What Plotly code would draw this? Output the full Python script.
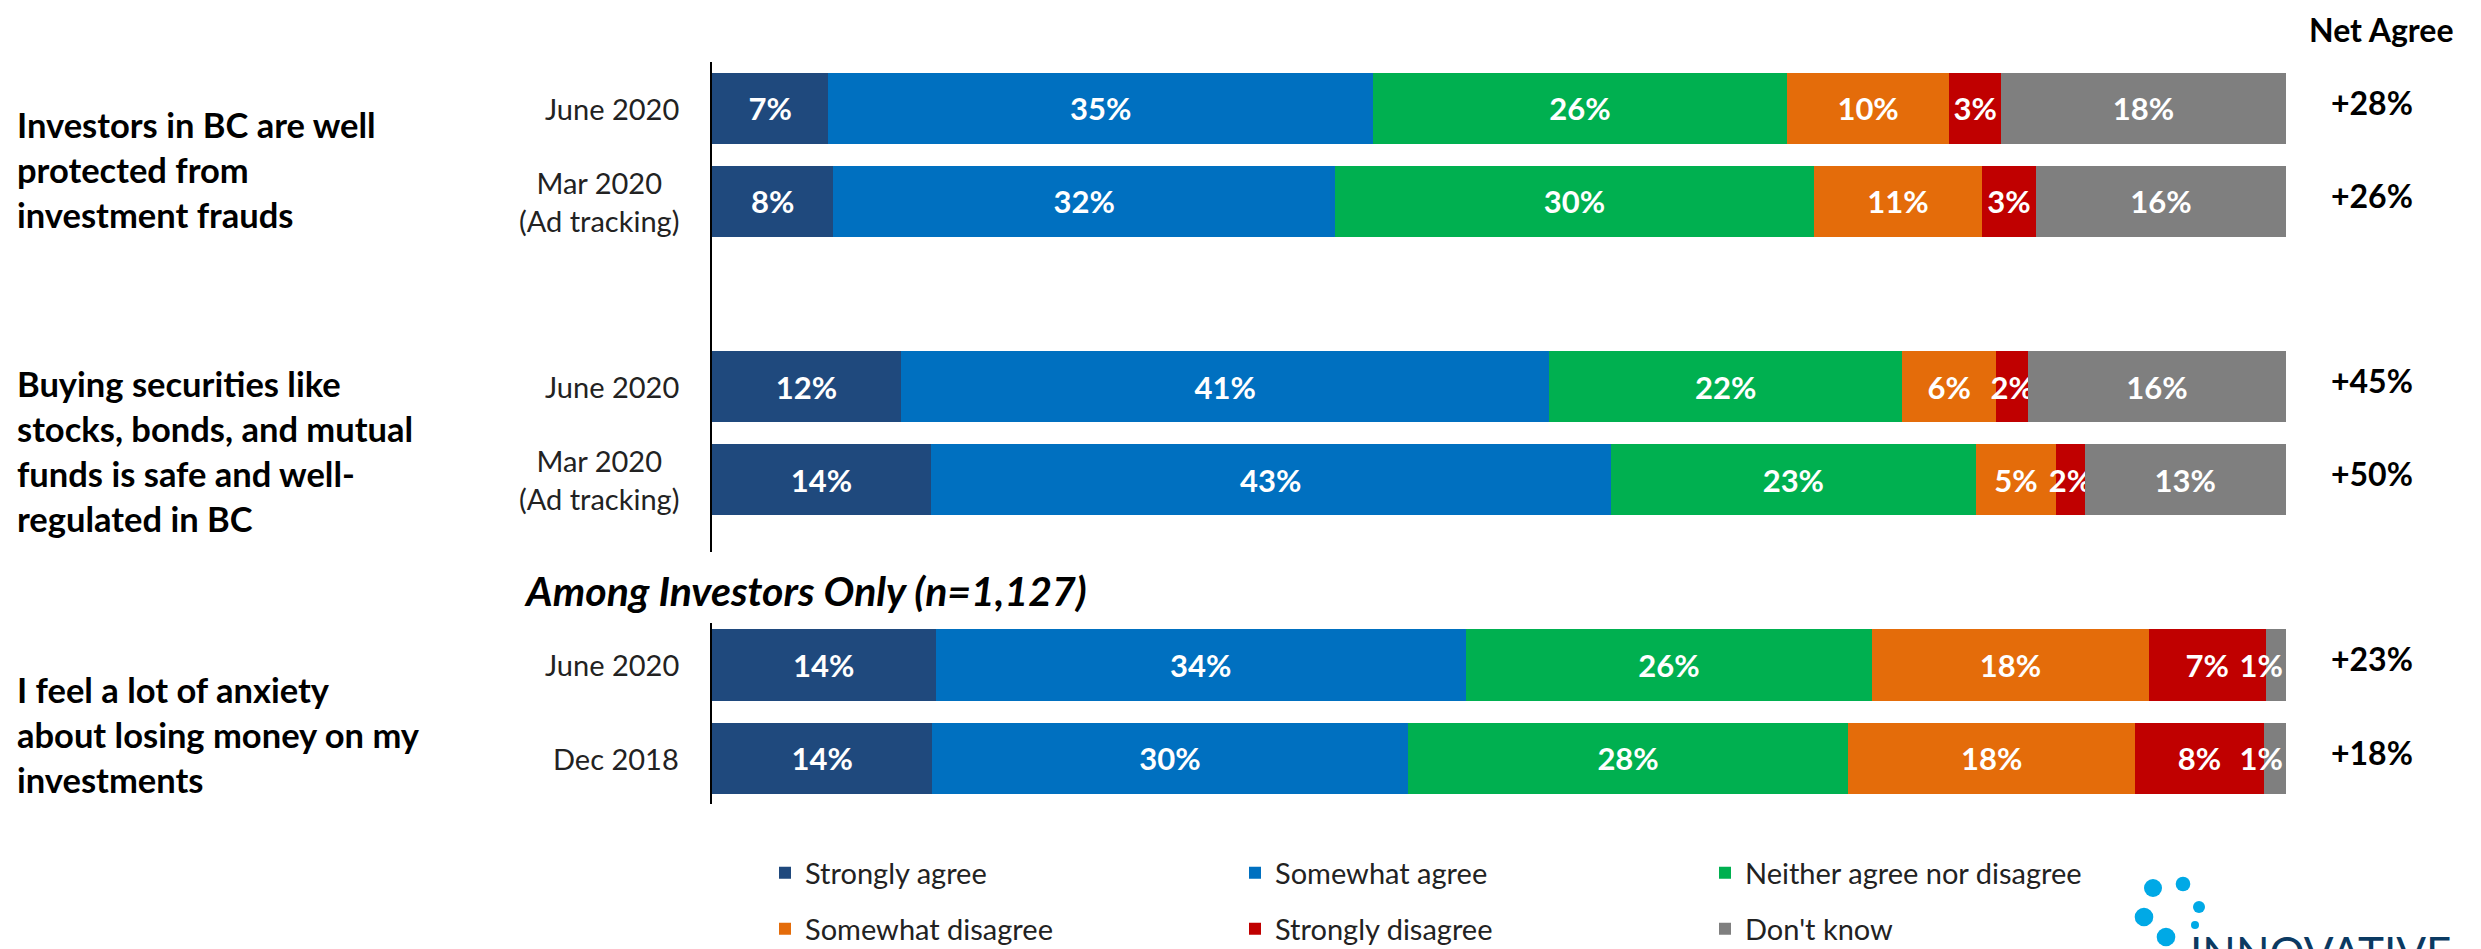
import plotly.graph_objects as go

# the page body keeps the browser's default 8px margin, so the figure is 8px smaller
# and every reference pixel position is shifted by that offset
OFF = 8
W, H = 2481 - OFF, 949 - OFF

statements = [
    "Investors in BC are well<br>protected from<br>investment frauds",
    "Buying securities like<br>stocks, bonds, and mutual<br>funds is safe and well-<br>regulated in BC",
    "I feel a lot of anxiety<br>about losing money on my<br>investments",
]
waves = [
    ["June 2020", "Mar 2020<br>(Ad tracking)"],
    ["June 2020", "Mar 2020<br>(Ad tracking)"],
    ["June 2020", "Dec 2018"],
]
responses = ["Strongly agree", "Somewhat agree", "Neither agree nor disagree",
             "Somewhat disagree", "Strongly disagree", "Don't know"]
colors = ["#1F497D", "#0070C0", "#00B050", "#E46C0A", "#C00000", "#7F7F7F"]

# one value per bar, in row order (statement 1 June, Mar, statement 2 June, Mar, statement 3 June, Dec)
strongly_agree = [7.4, 7.7, 12.0, 13.9, 14.2, 14.0]
somewhat_agree = [34.6, 31.9, 41.2, 43.2, 33.7, 30.2]
neither = [26.3, 30.4, 22.4, 23.2, 25.8, 28.0]
somewhat_disagree = [10.3, 10.7, 6.0, 5.1, 17.6, 18.2]
strongly_disagree = [3.3, 3.4, 2.0, 1.8, 7.4, 8.2]
dont_know = [18.1, 15.9, 16.4, 12.8, 1.3, 1.4]
net_agree = [28, 26, 45, 50, 23, 18]

series = [strongly_agree, somewhat_agree, neither, somewhat_disagree, strongly_disagree, dont_know]

# rows of the first two statements share the top panel (with an empty slot between them),
# the investors-only statement sits in the bottom panel
rows = []
for g, wv in enumerate(waves):
    for r, label in enumerate(wv):
        if g < 2:
            rows.append(("y", g * 3 + r, label))
        else:
            rows.append(("y2", r, label))


def py(px):
    return 1 - (px - OFF) / H


def px_x(px):
    return (px - OFF) / W


fig = go.Figure()
for i, (name, vals, col) in enumerate(zip(responses, series, colors)):
    for axis in ["y", "y2"]:
        idx = [k for k, rw in enumerate(rows) if rw[0] == axis]
        fig.add_trace(go.Bar(
            x=[vals[k] for k in idx],
            y=[rows[k][1] for k in idx],
            orientation="h",
            name=name,
            marker=dict(color=col, line=dict(width=0)),
            texttemplate="%{x:.0f}%",
            textposition="inside",
            insidetextanchor="end" if (axis == "y2" and i == 5) else "middle",
            constraintext="none",
            textangle=0,
            textfont=dict(family="Lato", size=31, color="white", weight="bold"),
            xaxis="x" if axis == "y" else "x2",
            yaxis=axis,
            legendgroup=name,
            showlegend=(axis == "y"),
            legend="legend" if i < 3 else "legend2",
            hoverinfo="skip",
        ))

ann = []
# wave labels beside the bars
for axis, pos, label in rows:
    ann.append(dict(xref="paper", yref=axis, x=px_x(681), y=pos, text=label,
                    xanchor="right", yanchor="middle", align="center", showarrow=False,
                    font=dict(family="Lato", size=29, color="#222222")))
# net agree column
for (axis, pos, label), v in zip(rows, net_agree):
    ann.append(dict(xref="paper", yref=axis, x=px_x(2372), y=pos, text=f"+{v}%",
                    xanchor="center", yanchor="middle", yshift=6, showarrow=False,
                    font=dict(family="Lato", size=32, color="black", weight="bold")))
ann.append(dict(xref="paper", yref="paper", x=px_x(2381), y=1, text="Net Agree",
                xanchor="center", yanchor="top", showarrow=False,
                font=dict(family="Lato", size=32, color="black", weight="bold")))
# statements
for text, cy in zip(statements, [170, 451, 734]):
    ann.append(dict(xref="paper", yref="paper", x=px_x(15), y=py(cy), text=text,
                    xanchor="left", yanchor="middle", align="left", showarrow=False,
                    font=dict(family="Lato", size=34.5, color="black", weight="bold")))
ann.append(dict(xref="paper", yref="paper", x=px_x(522), y=py(590),
                text="<b><i>Among Investors Only (n=1,127)</i></b>",
                xanchor="left", yanchor="middle", showarrow=False,
                font=dict(family="Lato", size=41, color="black")))
# logo
ann.append(dict(xref="paper", yref="paper", x=px_x(2188), y=py(924), text="INNOVATIVE",
                xanchor="left", yanchor="top", showarrow=False,
                font=dict(family="Lato", size=44, color="#0B3A62")))

dots = [(2153, 888, 9), (2183, 884, 7.3), (2199, 907, 6), (2144, 917, 9.3), (2195, 925, 4), (2166, 937, 9.3)]
shapes = [dict(type="circle", xref="paper", yref="paper",
               x0=px_x(cx - r), x1=px_x(cx + r), y0=py(cy + r), y1=py(cy - r),
               fillcolor="#00A9E6", line=dict(width=0)) for cx, cy, r in dots]

xdom = [px_x(712), px_x(2286)]
legend_common = dict(orientation="h", x=px_x(765), xanchor="left", yanchor="middle",
                     entrywidth=425, entrywidthmode="pixels", traceorder="normal",
                     font=dict(family="Lato", size=29, color="#222222"),
                     bgcolor="rgba(0,0,0,0)", itemclick=False, itemdoubleclick=False)

fig.update_layout(
    width=W, height=H,
    margin=dict(l=0, r=0, t=0, b=0, autoexpand=False),
    paper_bgcolor="white", plot_bgcolor="white",
    font=dict(family="Lato"),
    barmode="stack", bargap=0.236,
    xaxis=dict(domain=xdom, range=[0, 100], visible=False, fixedrange=True),
    xaxis2=dict(domain=xdom, range=[0, 100], visible=False, anchor="y2", fixedrange=True),
    yaxis=dict(domain=[py(552), py(62)], range=[4.78, -0.5], showticklabels=False,
               showgrid=False, zeroline=False, showline=True, linecolor="black", linewidth=2,
               anchor="x", fixedrange=True),
    yaxis2=dict(domain=[py(804), py(623)], range=[1.49, -0.45], showticklabels=False,
                showgrid=False, zeroline=False, showline=True, linecolor="black", linewidth=2,
                anchor="x2", fixedrange=True),
    legend=dict(legend_common, y=py(873)),
    legend2=dict(legend_common, y=py(929)),
    annotations=ann,
    shapes=shapes,
)

fig.write_html("out.html")
